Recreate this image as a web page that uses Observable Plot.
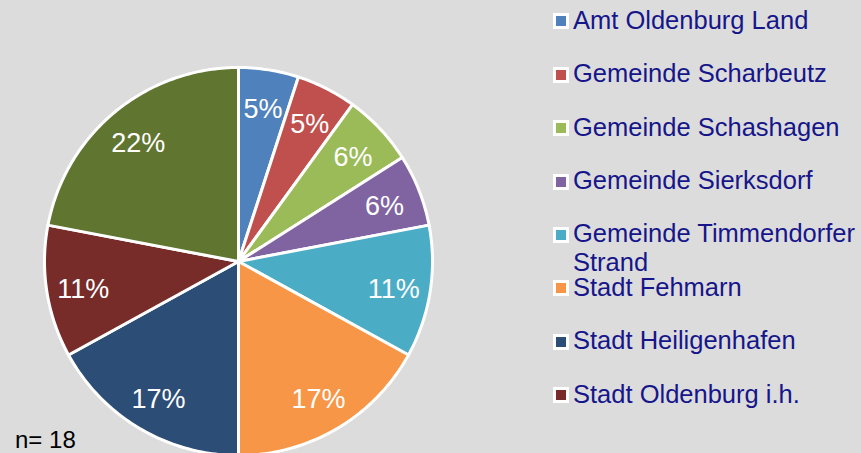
<!DOCTYPE html>
<html>
<head>
<meta charset="utf-8">
<script src="https://cdn.jsdelivr.net/npm/d3@7"></script>
<script src="https://cdn.jsdelivr.net/npm/@observablehq/plot@0.6"></script>
<style>
  html, body { margin: 0; padding: 0; background: #dcdcdc; }
  #wrap { position: relative; width: 861px; height: 453px; overflow: hidden; background: #dcdcdc; font-family: "Liberation Sans", Arial, sans-serif; }
  #chart { position: absolute; left: 0; top: 0; }
  .leg { position: absolute; left: 553px; font-size: 25.5px; line-height: 29px; color: #16168a; white-space: nowrap; }
  .sw { position: absolute; left: 0; width: 10px; height: 10px; border: 3px solid #fff; }
  .lt { position: absolute; left: 20px; top: 0; }
  #n { position: absolute; left: 15px; top: 425px; font-size: 24px; line-height: 29px; color: #000; }
</style>
</head>
<body>
<div id="wrap">
  <div id="chart"></div>
  <div id="legend"></div>
  <div id="n"></div>
</div>
<script>
const categories = [
  "Amt Oldenburg Land",
  "Gemeinde Scharbeutz",
  "Gemeinde Schashagen",
  "Gemeinde Sierksdorf",
  "Gemeinde Timmendorfer Strand",
  "Stadt Fehmarn",
  "Stadt Heiligenhafen",
  "Stadt Oldenburg i.h.",
  "Sonstige"
];
const shares = [5, 5, 6, 6, 11, 17, 17, 11, 22];
const sliceLabels = ["5%", "5%", "6%", "6%", "11%", "17%", "17%", "11%", "22%"];
const colors = ["#4F81BD", "#C0504D", "#9BBB59", "#8064A2", "#4BACC6", "#F79646", "#2C4D75", "#772C2A", "#5F7530"];
const legendLabels = [
  "Amt Oldenburg Land",
  "Gemeinde Scharbeutz",
  "Gemeinde Schashagen",
  "Gemeinde Sierksdorf",
  "Gemeinde Timmendorfer<br>Strand",
  "Stadt Fehmarn",
  "Stadt Heiligenhafen",
  "Stadt Oldenburg i.h."
];
const sampleText = "n= 18";

// pie geometry (angles clockwise from 12 o'clock)
const arcs = d3.pie().sort(null).startAngle(0).endAngle(2 * Math.PI)(shares);
const pts = [];
const labelRows = [];
arcs.forEach((a, i) => {
  const cat = categories[i];
  pts.push({cat, x: 0, y: 0});
  const steps = Math.max(2, Math.ceil((a.endAngle - a.startAngle) / (Math.PI / 180)));
  for (let k = 0; k <= steps; k++) {
    const t = a.startAngle + (a.endAngle - a.startAngle) * k / steps;
    pts.push({cat, x: Math.sin(t), y: -Math.cos(t)});
  }
  pts.push({cat, x: 0, y: 0});
  const mid = (a.startAngle + a.endAngle) / 2;
  labelRows.push({cat, label: sliceLabels[i], x: 0.81 * Math.sin(mid), y: -0.81 * Math.cos(mid)});
});

const chart = Plot.plot({
  width: 861,
  height: 453,
  margin: 0,
  style: {background: "transparent", overflow: "visible"},
  x: {domain: [-1, 1], range: [44, 432], axis: null},
  y: {domain: [-1, 1], range: [67, 455], axis: null},
  color: {domain: categories, range: colors},
  marks: [
    Plot.line(pts, {x: "x", y: "y", z: "cat", fill: "cat", stroke: "white", strokeWidth: 3, strokeLinejoin: "round", curve: "linear"}),
    Plot.text(labelRows, {x: "x", y: "y", text: "label", fill: "white", fontSize: 27, dy: 3, fontFamily: "Liberation Sans, Arial, sans-serif", textAnchor: "middle", lineAnchor: "middle"})
  ]
});
document.getElementById("chart").appendChild(chart);

const legend = document.getElementById("legend");
legendLabels.forEach((lab, i) => {
  const baseline = 29 + 53.4 * i;
  const item = document.createElement("div");
  item.className = "leg";
  item.style.top = (baseline - 23.3) + "px";
  item.innerHTML = `<span class="sw" style="background:${colors[i]};top:7.7px"></span><span class="lt">${lab}</span>`;
  legend.appendChild(item);
});
document.getElementById("n").textContent = sampleText;
</script>
</body>
</html>
